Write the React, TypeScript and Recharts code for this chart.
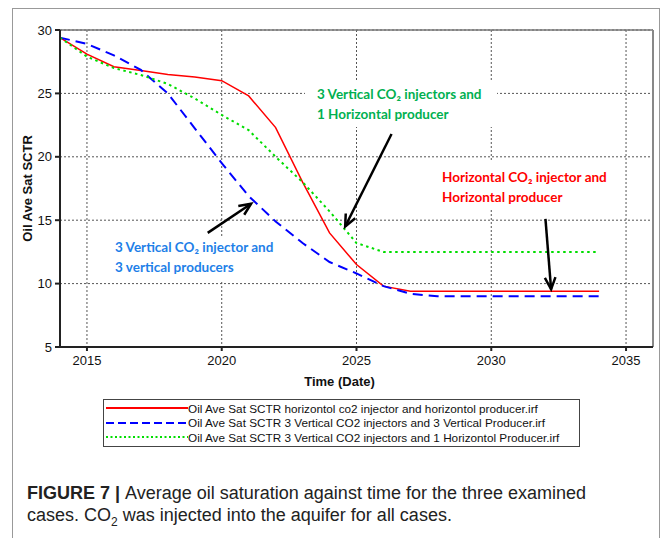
import React from 'react';
import { LineChart, Line, XAxis, YAxis, CartesianGrid, ReferenceLine } from 'recharts';

// Yearly values
const years = [2014, 2015, 2016, 2017, 2018, 2019, 2020, 2021, 2022, 2023, 2024, 2025, 2026, 2027, 2028, 2029, 2030, 2031, 2032, 2033, 2034];
const redSat = [29.4, 28.1, 27.1, 26.8, 26.5, 26.3, 26.0, 24.8, 22.3, 18.0, 14.0, 11.5, 9.8, 9.4, 9.4, 9.4, 9.4, 9.4, 9.4, 9.4, 9.4];
const blueSat = [29.4, 28.9, 28.0, 26.85, 25.0, 22.25, 19.5, 16.9, 14.9, 13.2, 11.7, 10.8, 9.8, 9.2, 9.0, 9.0, 9.0, 9.0, 9.0, 9.0, 9.0];
const greenSat = [29.4, 27.9, 27.0, 26.45, 25.75, 24.6, 23.3, 22.1, 20.0, 18.0, 15.7, 13.2, 12.5, 12.5, 12.5, 12.5, 12.5, 12.5, 12.5, 12.5, 12.5];

const seriesNames = [
  'Oil Ave Sat SCTR horizontol co2 injector and horizontol producer.irf',
  'Oil Ave Sat SCTR 3 Vertical CO2 injectors and 3 Vertical Producer.irf',
  'Oil Ave Sat SCTR 3 Vertical CO2 injectors and 1 Horizontol Producer.irf',
];
const seriesColors = ['#ff0000', '#0000ff', '#00dd00'];
const seriesDash = [undefined, '10 6', '2.5 3.5'];

const xTicks = [2015, 2020, 2025, 2030, 2035];
const yTicks = [5, 10, 15, 20, 25, 30];

// annotation arrows, tail -> head, in data units
const arrowTails = [
  { x: 2019.48, y: 14.0 },
  { x: 2026.3, y: 21.8 },
  { x: 2032.01, y: 15.1 },
];
const arrowHeads = [
  { x: 2021.09, y: 16.3 },
  { x: 2024.58, y: 14.5 },
  { x: 2032.22, y: 9.55 },
];

const data = years.map((year, i) => ({
  year,
  red: redSat[i],
  blue: blueSat[i],
  green: greenSat[i],
}));

const keys = ['red', 'blue', 'green'];

const ArrowShape = (props: any) => {
  const { x1, y1, x2, y2 } = props;
  const a = Math.atan2(y2 - y1, x2 - x1);
  const len = 13;
  const spread = 0.42;
  const p1x = x2 - len * Math.cos(a - spread);
  const p1y = y2 - len * Math.sin(a - spread);
  const p2x = x2 - len * Math.cos(a + spread);
  const p2y = y2 - len * Math.sin(a + spread);
  return (
    <g>
      <line x1={x1} y1={y1} x2={x2} y2={y2} stroke="#000" strokeWidth={2.5} />
      <polyline
        points={`${p1x},${p1y} ${x2},${y2} ${p2x},${p2y}`}
        fill="none"
        stroke="#000"
        strokeWidth={2.5}
      />
    </g>
  );
};

const labelBox: React.CSSProperties = {
  position: 'absolute',
  background: '#fff',
  fontFamily: 'Lato, "Open Sans", sans-serif',
  fontWeight: 700,
  fontSize: 13.5,
  lineHeight: '19.5px',
  whiteSpace: 'nowrap',
  boxSizing: 'border-box',
};

export default function App() {
  return (
    <div style={{ position: 'absolute', left: 0, top: 0, width: 664, height: 538, background: '#fff', overflow: 'hidden' }}>
      <div
        style={{
          position: 'absolute',
          left: 12,
          top: 8,
          width: 648,
          height: 560,
          border: '1.5px solid #999',
          boxSizing: 'border-box',
        }}
      />
      <div style={{ position: 'absolute', left: 0, top: 0 }}>
        <LineChart width={664} height={400} data={data} margin={{ top: 30, right: 11, bottom: 23, left: 0 }}>
          <CartesianGrid stroke="#555" strokeDasharray="2 2" />
          <XAxis
            dataKey="year"
            type="number"
            domain={[2014, 2036]}
            ticks={xTicks}
            allowDataOverflow
            height={30}
            tickSize={4}
            tickMargin={5}
            stroke="#222"
            strokeWidth={2}
            tick={{ fill: '#111', fontSize: 13, fontFamily: 'Liberation Sans, Arial, sans-serif' }}
            label={{
              value: 'Time (Date)',
              position: 'bottom',
              offset: 0,
              dx: -17,
              style: { fill: '#111', fontSize: 13, fontWeight: 700, fontFamily: 'Liberation Sans, Arial, sans-serif' },
            }}
          />
          <YAxis
            type="number"
            domain={[5, 30]}
            ticks={yTicks}
            width={60}
            tickSize={5}
            tickMargin={3}
            stroke="#222"
            strokeWidth={2}
            tick={{ fill: '#111', fontSize: 13, fontFamily: 'Liberation Sans, Arial, sans-serif' }}
            label={{
              value: 'Oil Ave Sat SCTR',
              angle: -90,
              position: 'center',
              dx: -3,
              style: { fill: '#111', fontSize: 13, fontWeight: 700, fontFamily: 'Liberation Sans, Arial, sans-serif' },
            }}
          />
          <ReferenceLine y={30} stroke="#777" strokeWidth={1.5} />
          <ReferenceLine x={2036} stroke="#888" strokeWidth={2} />
          {keys.map((k, i) => (
            <Line
              key={k}
              type="linear"
              dataKey={k}
              name={seriesNames[i]}
              stroke={seriesColors[i]}
              strokeWidth={i === 0 ? 1.5 : 2}
              strokeDasharray={seriesDash[i]}
              dot={false}
              activeDot={false}
              isAnimationActive={false}
            />
          ))}
          {arrowTails.map((t, i) => (
            <ReferenceLine key={'arrow' + i} segment={[t, arrowHeads[i]]} shape={ArrowShape} />
          ))}
        </LineChart>
      </div>

      <div style={{ ...labelBox, left: 305, top: 80, width: 192, height: 47, paddingLeft: 12, paddingTop: 5, color: '#00b050' }}>
        <div>3 Vertical CO₂ injectors and</div>
        <div>1 Horizontal producer</div>
      </div>
      <div style={{ ...labelBox, left: 435, top: 160, width: 180, height: 50, paddingLeft: 7, paddingTop: 8, color: '#ff0000' }}>
        <div>Horizontal CO₂ injector and</div>
        <div>Horizontal producer</div>
      </div>
      <div style={{ ...labelBox, left: 108, top: 238, width: 174, height: 42, paddingLeft: 7, paddingTop: 0, color: '#1e7fe8' }}>
        <div>3 Vertical CO₂ injector and</div>
        <div>3 vertical producers</div>
      </div>

      <div
        style={{
          position: 'absolute',
          left: 103,
          top: 399,
          width: 477,
          height: 48,
          border: '1.5px solid #444',
          boxSizing: 'border-box',
          padding: '1px 0 0 2px',
          fontFamily: 'Liberation Sans, Arial, sans-serif',
          fontSize: 11.75,
          color: '#111',
        }}
      >
        {seriesNames.map((name, i) => (
          <div key={name} style={{ display: 'flex', alignItems: 'center', height: 14.5, whiteSpace: 'nowrap' }}>
            <svg width={82} height={6} style={{ flex: 'none' }}>
              <line
                x1={0}
                y1={3}
                x2={82}
                y2={3}
                stroke={seriesColors[i]}
                strokeWidth={2}
                strokeDasharray={i === 1 ? '8 4' : i === 2 ? '2 2.5' : undefined}
              />
            </svg>
            <span>{name}</span>
          </div>
        ))}
      </div>

      <div
        style={{
          position: 'absolute',
          left: 27,
          top: 482,
          width: 620,
          fontFamily: 'Liberation Sans, Arial, sans-serif',
          fontSize: 18,
          lineHeight: '22px',
          color: '#222',
        }}
      >
        <b>FIGURE 7 | </b>Average oil saturation against time for the three examined
        <br />
        cases. CO<sub style={{ fontSize: 12, lineHeight: 0 }}>2</sub> was injected into the aquifer for all cases.
      </div>
    </div>
  );
}
